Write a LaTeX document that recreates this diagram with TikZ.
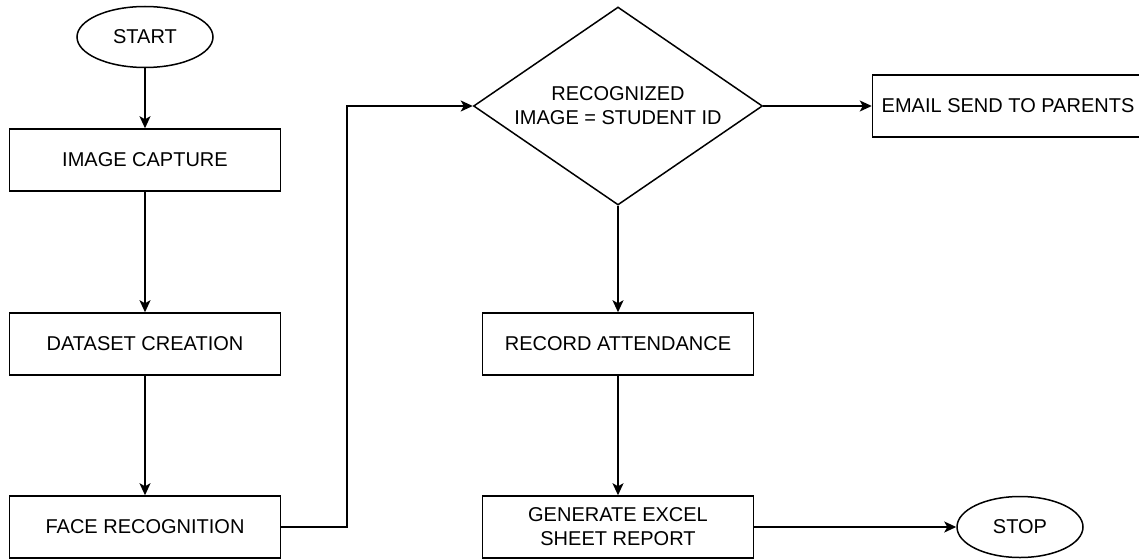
\documentclass[tikz,border=0pt]{standalone}
\usepackage{fontspec}
\setmainfont{Liberation Sans}
\usepackage{tikz}
\usetikzlibrary{shapes.geometric}
\usetikzlibrary{arrows.meta}

\begin{document}
\begin{tikzpicture}[x=1pt, y=-1pt,
    font=\fontsize{20}{24}\selectfont,
    box/.style={rectangle, draw, line width=1.5pt, minimum width=271pt,
        minimum height=62pt, align=center, inner sep=0pt},
    term/.style={ellipse, draw, line width=1.5pt, minimum width=136pt,
        minimum height=61pt, inner sep=0pt},
    decide/.style={diamond, draw, line width=1.5pt, aspect=1.46,
        minimum width=289pt, minimum height=198pt, align=center, inner sep=0pt},
    flow/.style={line width=1.5pt, -{Stealth[length=12pt, width=11pt, inset=3pt]}}]

\useasboundingbox (0,0) rectangle (1139,559);

\node[term] (start) at (145,37) {START};

\node[box] (capture) at (145,160) {IMAGE CAPTURE};

\node[box] (dataset) at (145,344) {DATASET CREATION};

\node[box] (face) at (145,527) {FACE RECOGNITION};

\node[decide] (check) at (618,106) {RECOGNIZED\\IMAGE = STUDENT ID};

\node[box] (email) at (1008,106) {EMAIL SEND TO PARENTS};

\node[box] (record) at (618,344) {RECORD ATTENDANCE};

\node[box] (report) at (618,527) {GENERATE EXCEL\\SHEET REPORT};

\node[term, minimum width=126pt] (stop) at (1020,527) {STOP};

\coordinate (elbow) at (347,527);

\draw [flow] (start) -- (capture);
\draw [flow] (capture) -- (dataset);
\draw [flow] (dataset) -- (face);
\draw [flow] (face.east) -- (elbow) |- (check.west);
\draw [flow] (check.east) -- (email.west);
\draw [flow] (check.south) -- (record);
\draw [flow] (record) -- (report);
\draw [flow] (report) -- (stop);

\end{tikzpicture}
\end{document}
